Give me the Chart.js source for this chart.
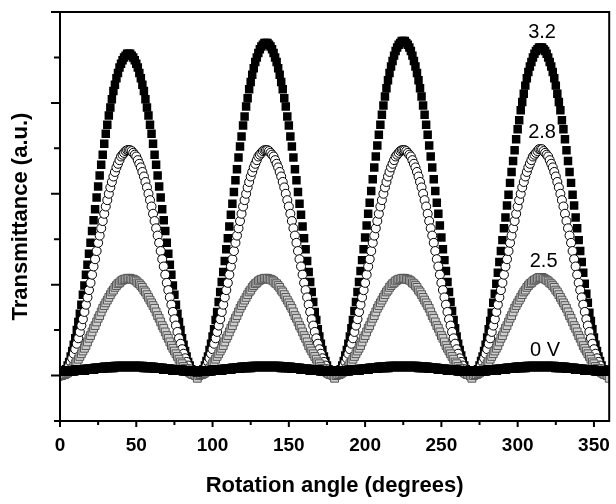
<!DOCTYPE html>
<html><head><meta charset="utf-8">
<script src="https://cdn.jsdelivr.net/npm/chart.js@4/dist/chart.umd.min.js"></script>
<style>html,body{margin:0;padding:0;background:#fff}canvas{display:block}</style>
</head><body>
<canvas id="c" width="616" height="504"></canvas>
<script>
// Rotation angle samples (degrees, 1° steps)
const angles = Array.from({length: 361}, (_, i) => i);

// Transmittance (arbitrary units x100)
const s32 = [
0,0,2,4,7,11,15,21,27,34,41,50,59,68,78,89,99,111,122,134,146,159,171,183,196,208,220,232,243,255,266,276,286,295,304,313,320,327,333,339,343,347,350,352,354,354,
354,352,350,347,343,339,333,327,320,313,304,295,286,276,266,255,243,232,220,208,196,183,171,159,146,134,122,111,99,89,78,68,59,50,41,34,27,21,15,11,7,4,2,0,
-1,
0,2,4,7,11,16,21,28,35,43,51,61,70,81,92,103,114,126,139,151,164,177,189,202,215,227,240,252,263,275,285,296,305,315,323,331,338,345,350,355,359,362,364,366,366,
366,364,362,359,355,350,345,338,331,323,315,305,296,285,275,263,252,240,227,215,202,189,177,164,151,139,126,114,103,92,81,70,61,51,43,35,28,21,16,11,7,4,2,0,
-1,
0,2,4,7,11,16,22,28,35,43,52,61,71,81,92,103,115,127,139,152,165,178,190,203,216,229,241,253,265,276,287,297,307,316,325,333,340,346,352,357,361,364,366,368,368,
368,366,364,361,357,352,346,340,333,325,316,307,297,287,276,265,253,241,229,216,203,190,178,165,152,139,127,115,103,92,81,71,61,52,43,35,28,22,16,11,7,4,2,0,
-1,
0,2,4,7,11,16,21,27,34,42,51,60,69,80,90,101,113,125,137,149,162,174,187,199,212,224,236,248,260,271,281,292,301,310,319,327,334,340,345,350,354,357,359,361,361,
361,359,357,354,350,345,340,334,327,319,310,301,292,281,271,260,248,236,224,212,199,187,174,162,149,137,125,113,101,90,80,69,60,51,42,34,27,21,16,11,7,4,2,0,
1];

const s28 = [
0,0,1,3,5,7,11,15,19,24,29,35,41,48,55,62,70,78,86,94,102,111,120,128,137,146,154,162,170,178,186,193,200,207,213,219,224,229,233,237,241,243,245,247,248,248,
248,247,245,243,241,237,233,229,224,219,213,207,200,193,186,178,170,162,154,146,137,128,120,111,102,94,86,78,70,62,55,48,41,35,29,24,19,15,11,7,5,3,1,0,
-1,
0,1,3,5,7,11,15,19,24,29,35,41,48,55,62,70,78,86,94,102,111,120,128,137,146,154,162,170,178,186,193,200,207,213,219,224,229,233,237,241,243,245,247,248,248,
248,247,245,243,241,237,233,229,224,219,213,207,200,193,186,178,170,162,154,146,137,128,120,111,102,94,86,78,70,62,55,48,41,35,29,24,19,15,11,7,5,3,1,0,
-1,
0,1,3,5,7,11,15,19,24,29,35,41,48,55,62,70,78,86,94,102,111,120,128,137,146,154,162,170,178,186,193,200,207,213,219,224,229,233,237,241,243,245,247,248,248,
248,247,245,243,241,237,233,229,224,219,213,207,200,193,186,178,170,162,154,146,137,128,120,111,102,94,86,78,70,62,55,48,41,35,29,24,19,15,11,7,5,3,1,0,
-1,
0,1,3,5,7,11,15,19,24,29,35,41,48,55,62,70,78,86,94,102,111,120,128,137,146,154,162,170,178,186,193,200,207,213,219,224,229,233,237,241,243,245,247,249,249,
249,247,245,243,241,237,233,229,224,219,213,207,200,193,186,178,170,162,154,146,137,128,120,111,102,94,86,78,70,62,55,48,41,35,29,24,19,15,11,7,5,3,1,0,
-1];

const s25 = [
0,0,1,1,2,3,5,6,8,10,13,15,18,21,24,27,30,33,37,41,44,48,52,55,59,63,66,70,74,77,80,83,86,89,92,94,97,99,101,102,104,105,106,106,107,107,
107,106,106,105,104,102,101,99,97,94,92,89,86,83,80,77,74,70,66,63,59,55,52,48,44,41,37,33,30,27,24,21,18,15,13,10,8,6,5,3,2,1,1,0,
-3,
0,1,1,2,3,5,6,8,10,13,15,18,21,24,27,30,33,37,41,44,48,52,55,59,63,66,70,74,77,80,83,86,89,92,94,97,99,101,102,104,105,106,106,107,107,
107,106,106,105,104,102,101,99,97,94,92,89,86,83,80,77,74,70,66,63,59,55,52,48,44,41,37,33,30,27,24,21,18,15,13,10,8,6,5,3,2,1,1,0,
-3,
0,1,1,2,3,5,6,8,10,13,15,18,21,24,27,30,33,37,41,44,48,52,55,59,63,66,70,74,77,80,83,86,89,92,94,97,99,101,102,104,105,106,106,107,107,
107,106,106,105,104,102,101,99,97,94,92,89,86,83,80,77,74,70,66,63,59,55,52,48,44,41,37,33,30,27,24,21,18,15,13,10,8,6,5,3,2,1,1,0,
-3,
0,1,1,2,3,5,6,8,10,13,15,18,21,24,27,30,33,37,41,44,48,52,55,59,63,66,70,74,77,80,83,86,89,92,94,97,99,101,102,104,105,106,107,108,108,
108,107,106,105,104,102,101,99,97,94,92,89,86,83,80,77,74,70,66,63,59,55,52,48,44,41,37,33,30,27,24,21,18,15,13,10,8,6,5,3,2,1,1,0,
-3];

const s0 = [
5,5,5,5,5,5,5,5,5,5,6,6,6,6,6,6,6,7,7,7,7,7,7,8,8,8,8,8,8,9,9,9,9,9,9,9,10,10,10,10,10,10,10,10,10,10,
10,10,10,10,10,10,10,10,10,9,9,9,9,9,9,9,8,8,8,8,8,8,7,7,7,7,7,7,6,6,6,6,6,6,6,5,5,5,5,5,5,5,5,5,
4,
5,5,5,5,5,5,5,5,5,6,6,6,6,6,6,6,7,7,7,7,7,7,8,8,8,8,8,8,9,9,9,9,9,9,9,10,10,10,10,10,10,10,10,10,10,
10,10,10,10,10,10,10,10,10,9,9,9,9,9,9,9,8,8,8,8,8,8,7,7,7,7,7,7,6,6,6,6,6,6,6,5,5,5,5,5,5,5,5,5,
5,
5,5,5,5,5,5,5,5,5,6,6,6,6,6,6,6,7,7,7,7,7,7,8,8,8,8,8,8,9,9,9,9,9,9,9,10,10,10,10,10,10,10,10,10,10,
10,10,10,10,10,10,10,10,10,9,9,9,9,9,9,9,8,8,8,8,8,8,7,7,7,7,7,7,6,6,6,6,6,6,6,5,5,5,5,5,5,5,5,5,
5,
5,5,5,5,5,5,5,5,5,6,6,6,6,6,6,6,7,7,7,7,7,7,8,8,8,8,8,8,9,9,9,9,9,9,9,10,10,10,10,10,10,10,10,10,10,
10,10,10,10,10,10,10,10,10,9,9,9,9,9,9,9,8,8,8,8,8,8,7,7,7,7,7,7,6,6,6,6,6,6,6,5,5,5,5,5,5,5,5,5,
6];

const xTickValues = [0, 50, 100, 150, 200, 250, 300, 350];
const xMinorTicks = [25, 75, 125, 175, 225, 275, 325];
const yMajorTicks = [0, 100, 200, 300, 400];
const yMinorTicks = [-50, 50, 150, 250, 350];

const labelTexts = ['3.2', '2.8', '2.5', '0 V'];
const labelAngles = [316, 316, 317, 318];
const labelValues = [378, 267, 126, 28];

const FONT = '"Liberation Sans", Arial, Helvetica, sans-serif';

const framePlugin = {
  id: 'frame',
  afterDraw(chart) {
    const {ctx, chartArea: a, scales: {x, y}} = chart;
    ctx.save();
    ctx.strokeStyle = '#000';
    ctx.lineWidth = 2;
    ctx.strokeRect(a.left, a.top, a.right - a.left, a.bottom - a.top);
    ctx.beginPath();
    xTickValues.forEach(v => { const p = x.getPixelForValue(v); ctx.moveTo(p, a.bottom); ctx.lineTo(p, a.bottom + 6); });
    xMinorTicks.forEach(v => { const p = x.getPixelForValue(v); ctx.moveTo(p, a.bottom); ctx.lineTo(p, a.bottom + 4); });
    yMajorTicks.forEach(v => { const p = y.getPixelForValue(v); ctx.moveTo(a.left, p); ctx.lineTo(a.left - 9, p); });
    yMinorTicks.forEach(v => { const p = y.getPixelForValue(v); ctx.moveTo(a.left, p); ctx.lineTo(a.left - 6, p); });
    ctx.stroke();
    ctx.fillStyle = '#000';
    ctx.font = '20px ' + FONT;
    ctx.textAlign = 'center';
    ctx.textBaseline = 'middle';
    labelTexts.forEach((t, i) => {
      ctx.fillText(t, x.getPixelForValue(labelAngles[i]), y.getPixelForValue(labelValues[i]));
    });
    ctx.restore();
  }
};

new Chart(document.getElementById('c'), {
  type: 'line',
  data: {
    labels: angles,
    datasets: [
      {label: '0 V', data: s0, showLine: false, pointStyle: 'rect', pointRadius: 6.8,
       pointBackgroundColor: '#000', pointBorderColor: '#000', pointBorderWidth: 0},
      {label: '2.5 V', data: s25, showLine: false, pointStyle: 'rect', pointRadius: 5.5,
       pointBackgroundColor: '#cfcfcf', pointBorderColor: '#555', pointBorderWidth: 1},
      {label: '2.8 V', data: s28, showLine: false, pointStyle: 'circle', pointRadius: 4.5,
       pointBackgroundColor: '#fff', pointBorderColor: '#000', pointBorderWidth: 1},
      {label: '3.2 V', data: s32, showLine: false, pointStyle: 'rect', pointRadius: 6,
       pointBackgroundColor: '#000', pointBorderColor: '#000', pointBorderWidth: 0}
    ]
  },
  options: {
    responsive: false,
    animation: false,
    devicePixelRatio: 1,
    layout: {padding: {top: 12, right: 3, left: 0, bottom: 0}},
    plugins: {legend: {display: false}, tooltip: {enabled: false}},
    elements: {point: {hoverRadius: 0}},
    scales: {
      x: {
        type: 'linear', min: 0, max: 360,
        grid: {display: false, drawTicks: true, tickLength: 8},
        border: {display: false},
        afterBuildTicks: s => { s.ticks = xTickValues.map(v => ({value: v})); },
        ticks: {font: {family: FONT, size: 19, weight: 'bold'}, color: '#000', padding: 5, maxRotation: 0, autoSkip: false},
        title: {display: true, text: 'Rotation angle (degrees)', color: '#000',
                font: {family: FONT, size: 22, weight: 'bold'}, padding: {top: 0, bottom: 5}},
        afterFit: s => { s.height = 83; }
      },
      y: {
        min: -50, max: 400,
        grid: {display: false},
        border: {display: false},
        ticks: {display: false},
        title: {display: true, text: 'Transmittance (a.u.)', color: '#000',
                font: {family: FONT, size: 22, weight: 'bold'}, padding: {top: 8, bottom: 0}},
        afterFit: s => { s.width = 60; }
      }
    }
  },
  plugins: [framePlugin]
});
</script>
</body></html>
